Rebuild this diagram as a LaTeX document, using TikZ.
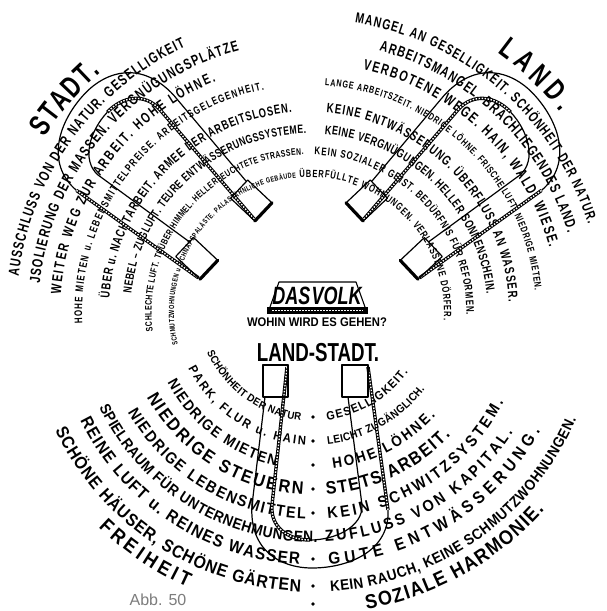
\documentclass[tikz,border=0pt]{standalone}
\usepackage{fontspec}
\usepackage{graphicx}
\setmainfont{Liberation Sans}
\newfontfamily\nar{Liberation Sans}[FakeStretch=0.72]
\newfontfamily\wid{Liberation Sans}[FakeStretch=0.9]
\newfontfamily\abbfont{Liberation Sans}
\usetikzlibrary{decorations.text,calc}
\definecolor{abbgray}{RGB}{125,125,125}

\tikzset{
  mline/.style={line width=1.2pt, line join=round, line cap=round},
  hatchline/.style={line width=3.4pt, line cap=butt,
     postaction={draw=white, line width=1.4pt, dash pattern=on 1.5pt off 1.5pt}},
  poleface/.style={line width=3.2pt, line cap=round},
  sepdot/.style={fill=black},
}

\newdimen\arcTW
\newsavebox\arcBox
% text on an upper arc (tops outward), centre Cu; size capped so that it never overlaps
\newcommand{\upT}[5]{%
  \pgfinterruptpicture\global\sbox\arcBox{\nar\bfseries\fontsize{10}{10}\selectfont #5}\endpgfinterruptpicture
  \global\arcTW=\wd\arcBox
  \pgfmathsetmacro\arcLen{#1*0.0174533*abs(#3-#2)}%
  \pgfmathsetmacro\arcFS{min(#4, 9.5*\arcLen/max(1,\arcTW))}%
  \path[decorate,decoration={text along path,text align=fit to path,
     text={|\nar\bfseries\fontsize{\arcFS}{\arcFS}\selectfont|#5}}]
     ($(Cu)+(#2:#1pt)$) arc[start angle=#2,end angle=#3,radius=#1pt];}
% text on a lower arc (tops inward), centre Cl
\newcommand{\loT}[5]{%
  \pgfinterruptpicture\global\sbox\arcBox{\wid\bfseries\fontsize{10}{10}\selectfont #5}\endpgfinterruptpicture
  \global\arcTW=\wd\arcBox
  \pgfmathsetmacro\arcLen{#1*0.0174533*abs(#3-#2)}%
  \pgfmathsetmacro\arcFS{min(#4, 9.5*\arcLen/max(1,\arcTW))}%
  \path[decorate,decoration={text along path,text align=fit to path,
     text={|\wid\bfseries\fontsize{\arcFS}{\arcFS}\selectfont|#5}}]
     ($(Cl)+(#2:#1pt)$) arc[start angle=#2,end angle=#3,radius=#1pt];}

% horseshoe magnet in local coordinates: poles at top (y=0), bend at y=-203
\newcommand{\magnetshape}[1]{%
  \draw[mline] (-50,-32) -- (-63,-140) .. controls (-66,-185) and (-35,-203) .. (-3,-203)
        .. controls (35,-203) and (75,-185) .. (73,-145);
  \draw[hatchline] (73,-145) -- (53,-2);
  \draw[hatchline] (-28,-2) -- (-43,-140) .. controls (-45,-162) and (-27,-175) .. (-5,-175);
  \draw[mline] (-5,-175) .. controls (20,-175) and (48,-162) .. (47,-140) -- (33,-32);
  \draw[mline] (-52,0) rectangle (-27,-32);
  \draw[mline] (27,0) rectangle (53,-32);
  \draw[#1] (-52,0) -- (-27,0);
  \draw[#1] (27,0) -- (53,0);
}

\begin{document}
\begin{tikzpicture}[x=1pt,y=1pt]
\fill[white] (0,0) rectangle (607,-611);
\useasboundingbox (0,0) rectangle (607,-611);
\coordinate (Cu) at (309,-312);
\coordinate (Cl) at (313,-305);

% ---------- STADT ----------
\upT{317}{146.5}{131}{30}{STADT.}
\upT{292.6}{173}{115}{15}{AUSSCHLUSS VON DER NATUR. GESELLIGKEIT}
\upT{270.6}{174}{105}{15}{JSOLIERUNG DER MASSEN. VERGNÜGUNGSPLÄTZE}
\upT{248.8}{176}{112}{14.5}{WEITER WEG ZUR ARBEIT. HOHE LÖHNE.}
\upT{226.9}{183}{101.5}{11}{HOHE MIETEN u. LEBENSMITTELPREISE. ARBEITSGELEGENHEIT.}
\upT{200}{176}{95}{13}{ÜBER u. NACHTARBEIT. ARMEE DER ARBEITSLOSEN.}
\upT{178.5}{174}{91}{12}{NEBEL – ZUGLUFT. TEURE ENTWÄSSERUNGSSYSTEME.}
\upT{157.4}{187}{92}{9.5}{SCHLECHTE LUFT. TRÜBER HIMMEL. HELLERLEUCHTETE STRASSEN.}
\upT{135}{194}{95.5}{7.5}{SCHMUTZWOHNUNGEN u. SCHNAPSPALÄSTE. PALASTÄHNLICHE GEBÄUDE}

% ---------- LAND ----------
\upT{321}{54}{38.5}{30}{LAND.}
\upT{292.6}{81}{17.5}{14.5}{MANGEL AN GESELLIGKEIT. SCHÖNHEIT DER NATUR.}
\upT{270.6}{75}{17}{15}{ARBEITSMANGEL. BRACHLIEGENDES LAND.}
\upT{248.8}{77.5}{15}{15}{VERBOTENE WEGE. HAIN, WALD, WIESE.}
\upT{226.9}{86}{5.5}{10}{LANGE ARBEITSZEIT. NIEDRIGE LÖHNE. FRISCHE LUFT. NIEDRIGE MIETEN.}
\upT{200}{85}{3}{13.5}{KEINE ENTWÄSSERUNG. ÜBERFLUSS AN WASSER.}
\upT{178.5}{85}{6}{12.5}{KEINE VERGNÜGUNGEN. HELLER SONNENSCHEIN.}
\upT{157.4}{88}{-1}{11}{KEIN SOZIALER GEIST. BEDÜRFNIS FÜR REFORMEN.}
\upT{135}{94}{-3.5}{10.5}{ÜBERFÜLLTE WOHNUNGEN. VERLASSENE DÖRFER.}

% ---------- LAND-STADT ----------
\loT{116}{204}{264}{12}{SCHÖNHEIT DER NATUR}
\loT{116}{277}{325}{12}{GESELLIGKEIT.}
\loT{140}{207}{267}{12.5}{PARK, FLUR u. HAIN}
\loT{140}{276}{323}{12.5}{LEICHT ZUGÄNGLICH.}
\loT{165}{208}{257}{15}{NIEDRIGE MIETEN}
\loT{165}{277}{318}{15}{HOHE LÖHNE.}
\loT{190}{209}{267}{18}{NIEDRIGE STEUERN}
\loT{190}{274}{316.5}{18}{STETS ARBEIT.}
\loT{214}{210}{268}{16}{NIEDRIGE LEBENSMITTEL}
\loT{214}{274}{333}{16}{KEIN SCHWITZSYSTEM.}
\loT{237}{205.5}{271}{16}{SPIELRAUM FÜR UNTERNEHMUNGEN.}
\loT{237}{273}{327.5}{16}{ZUFLUSS VON KAPITAL.}
\loT{260}{206.4}{267}{17}{REINE LUFT u. REINES WASSER}
\loT{260}{273.5}{331}{17}{GUTE ENTWÄSSERUNG.}
\loT{287}{206}{267.5}{17.5}{SCHÖNE HÄUSER, SCHÖNE GÄRTEN}
\loT{287}{273.5}{336.5}{15}{KEIN RAUCH, KEINE SCHMUTZWOHNUNGEN.}
\loT{309}{226}{246}{20}{FREIHEIT}
\loT{309}{280}{318.5}{20}{SOZIALE HARMONIE.}

\foreach \r in {112,136,160,184,208,254,281,299}
  \fill[sepdot] ($(Cl)+(270:\r pt)$) circle (1.8pt);

% ---------- magnets ----------
\begin{scope}[shift={(236.3,-240.7)}, rotate=-133.3, yscale=1.04]
  \magnetshape{poleface}
\end{scope}
\begin{scope}[shift={(381.7,-240.7)}, rotate=133.3, xscale=-1, yscale=1.04]
  \magnetshape{poleface}
\end{scope}
\begin{scope}[shift={(315,-365)}]
  \magnetshape{mline}
\end{scope}

% ---------- centre: DAS VOLK ----------
\draw[line width=1.1pt, line join=round] (270,-307) -- (279,-282) -- (356,-282) -- (365,-307);
\fill (267,-307) rectangle (368,-314);
\draw[white, line width=1.3pt, dash pattern=on 2.2pt off 0.8pt] (272,-310.5) -- (363,-310.5);
\node[inner sep=0pt, font=\nar\bfseries\itshape\fontsize{25}{25}\selectfont] (volk) at (317,-295.5) {DAS\kern0.05em VOLK};
\node[inner sep=0pt, font=\wid\bfseries\fontsize{12.5}{12.5}\selectfont] (wohin) at (317,-322) {WOHIN WIRD ES GEHEN?};
\node[inner sep=0pt, font=\nar\bfseries\fontsize{26}{26}\selectfont] (landstadt) at (318,-353) {LAND-STADT.};

\node[inner sep=0pt, font=\abbfont\fontsize{16}{16}\selectfont, text=abbgray] (abb) at (158,-600) {Abb. 50};
\end{tikzpicture}
\end{document}
